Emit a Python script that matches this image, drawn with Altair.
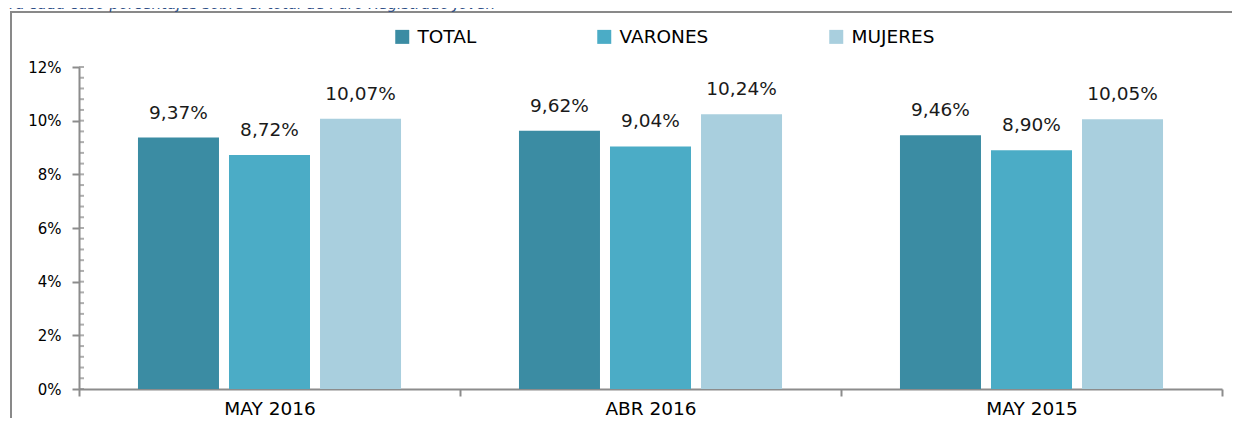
import altair as alt
import pandas as pd

periods = ["MAY 2016", "ABR 2016", "MAY 2015"]
series = ["TOTAL", "VARONES", "MUJERES"]
total = [9.37, 9.62, 9.46]
varones = [8.72, 9.04, 8.90]
mujeres = [10.07, 10.24, 10.05]
colors = ["#3B8CA3", "#4BACC6", "#A9CFDE"]
y_ticks = [0, 2, 4, 6, 8, 10, 12]
minor_ticks = [0, 0.4, 0.8, 1.2, 1.6, 2, 2.4, 2.8, 3.2, 3.6, 4, 4.4, 4.8, 5.2, 5.6, 6,
               6.4, 6.8, 7.2, 7.6, 8, 8.4, 8.8, 9.2, 9.6, 10, 10.4, 10.8, 11.2, 11.6, 12]
title_text = "Para cada caso porcentajes sobre el total de Paro Registrado Joven"

rows = []
for s, vals in zip(series, [total, varones, mujeres]):
    for p, v in zip(periods, vals):
        rows.append({"periodo": p, "serie": s, "valor": v})
df = pd.DataFrame(rows)
ticks_df = pd.DataFrame({"valor": minor_ticks})
one = pd.DataFrame({"a": [0]})

W, H = 1143, 322
FONT = "DejaVu Sans"
GREY = "#8C8C8C"

x = alt.X("periodo:N", sort=periods, title=None,
          scale=alt.Scale(paddingInner=0, paddingOuter=0),
          axis=alt.Axis(tickBand="extent", tickSize=7, tickWidth=2, tickColor=GREY,
                        domainColor=GREY, domainWidth=2, labelFontSize=18.5, labelFont=FONT,
                        labelColor="#000", labelPadding=3, labelAngle=0))
xo = alt.XOffset("serie:N", sort=series,
                 scale=alt.Scale(paddingInner=0.11, paddingOuter=0.648))
y_scale = alt.Scale(domain=[0, 12], nice=False, zero=True)
y_axis = alt.Axis(values=y_ticks, labelExpr="datum.value + '%'", tickSize=7, tickWidth=2,
                  tickColor=GREY, domainColor=GREY, domainWidth=2, labelFontSize=15,
                  labelFont=FONT, labelColor="#000", labelPadding=11, grid=False)
y = alt.Y("valor:Q", scale=y_scale, title=None, axis=y_axis)

bars = alt.Chart(df).mark_bar().encode(
    x=x, xOffset=xo, y=y,
    color=alt.Color("serie:N", sort=series,
                    scale=alt.Scale(domain=series, range=colors),
                    legend=alt.Legend(title=None, orient="none", legendX=314, legendY=-39.5,
                                      direction="horizontal", columns=3, symbolType="square",
                                      symbolSize=196, symbolStrokeWidth=0, labelFontSize=18.5,
                                      labelFont=FONT, labelColor="#000", labelOffset=6,
                                      columnPadding=118, padding=0)),
)

labels = alt.Chart(df).transform_calculate(
    label="replace(format(datum.valor, '.2f'), '.', ',') + '%'"
).mark_text(font=FONT, fontSize=18.5, color="#1A1A1A", baseline="alphabetic", dy=-19).encode(
    x=x, xOffset=xo, y=y, text="label:N"
)

minor = alt.Chart(ticks_df).mark_tick(color=GREY, thickness=2, size=5).encode(
    y=alt.Y("valor:Q", scale=y_scale, title=None, axis=y_axis),
    x=alt.value(2.5),
)

frame = alt.Chart(one).mark_rect(filled=False, stroke="#898989", strokeWidth=2).encode(
    x=alt.value(-68), x2=alt.value(W + 40), y=alt.value(-55), y2=alt.value(H + 80)
)

title = alt.Chart(one).mark_text(text=title_text, font=FONT, fontStyle="italic", fontSize=15,
                                 color="#2F4F86", align="left", baseline="alphabetic").encode(
    x=alt.value(-88), y=alt.value(-58)
)

chart = alt.layer(frame, title, bars, labels, minor).properties(
    width=W, height=H,
    autosize=alt.AutoSizeParams(type="none"),
    padding={"left": 71, "top": 59, "right": 10, "bottom": 29},
).configure_view(stroke=None)

chart.save("out.html", embed_options={"renderer": "svg", "actions": False})
